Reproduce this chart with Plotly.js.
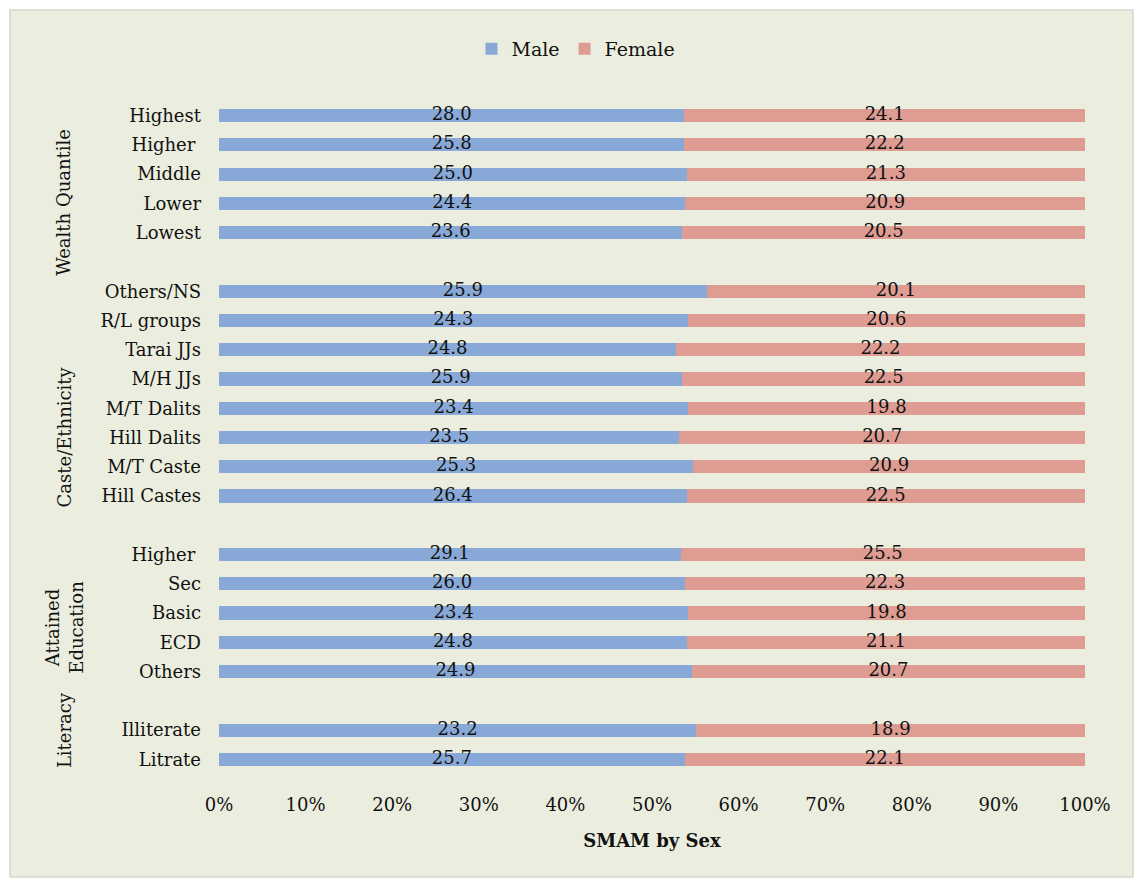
<!DOCTYPE html>
<html>
<head>
<meta charset="utf-8">
<script src="https://cdn.plot.ly/plotly-3.0.1.min.js"></script>
<style>html,body{margin:0;padding:0;background:#fff;}#chart{width:1135px;height:879px;}</style>
</head>
<body>
<div id="chart"></div>
<script>
// ---- data ----
const wealthLabels = ['Highest', 'Higher ', 'Middle', 'Lower', 'Lowest'];
const wealthMale   = [28.0, 25.8, 25.0, 24.4, 23.6];
const wealthFemale = [24.1, 22.2, 21.3, 20.9, 20.5];

const casteLabels = ['Others/NS', 'R/L groups', 'Tarai JJs', 'M/H JJs', 'M/T Dalits', 'Hill Dalits', 'M/T Caste', 'Hill Castes'];
const casteMale   = [25.9, 24.3, 24.8, 25.9, 23.4, 23.5, 25.3, 26.4];
const casteFemale = [20.1, 20.6, 22.2, 22.5, 19.8, 20.7, 20.9, 22.5];

const eduLabels = ['Higher ', 'Sec', 'Basic', 'ECD', 'Others'];
const eduMale   = [29.1, 26.0, 23.4, 24.8, 24.9];
const eduFemale = [25.5, 22.3, 19.8, 21.1, 20.7];

const litLabels = ['Illiterate', 'Litrate'];
const litMale   = [23.2, 25.7];
const litFemale = [18.9, 22.1];

const groupNames = ['Wealth Quantile', 'Caste/Ethnicity', 'Attained<br>Education', 'Literacy'];
const xTickLabels = ['0%', '10%', '20%', '30%', '40%', '50%', '60%', '70%', '80%', '90%', '100%'];

// ---- build rows (one blank slot between groups) ----
const groups = [
  [wealthLabels, wealthMale, wealthFemale],
  [casteLabels, casteMale, casteFemale],
  [eduLabels, eduMale, eduFemale],
  [litLabels, litMale, litFemale]
];
const ys = [], labels = [], male = [], female = [];
let pos = 0;
groups.forEach((g, gi) => {
  g[0].forEach((lab, i) => {
    ys.push(pos); labels.push(lab); male.push(g[1][i]); female.push(g[2][i]);
    pos++;
  });
  if (gi < groups.length - 1) pos++;
});
const nSlots = pos;

const FONT = 'DejaVu Serif, Liberation Serif, serif';
const TXT = '#111111';

const traceMale = {
  type: 'bar', orientation: 'h', name: 'Male',
  y: ys, x: male,
  marker: {color: '#88a9d7', line: {width: 0}},
  hoverinfo: 'skip'
};
const traceFemale = {
  type: 'bar', orientation: 'h', name: 'Female',
  y: ys, x: female,
  marker: {color: '#de9c93', line: {width: 0}},
  hoverinfo: 'skip'
};
// value labels centred in each (normalised) segment
const share = male.map((m, i) => 100 * m / (m + female[i]));
const labelMale = {
  type: 'scatter', mode: 'text', showlegend: false, hoverinfo: 'skip',
  y: ys, x: share.map(s => s / 2),
  text: male.map(v => v.toFixed(1)), textposition: 'middle center',
  textfont: {family: FONT, size: 18, color: TXT}, cliponaxis: false
};
const labelFemale = {
  type: 'scatter', mode: 'text', showlegend: false, hoverinfo: 'skip',
  y: ys, x: share.map(s => s + (100 - s) / 2),
  text: female.map(v => v.toFixed(1)), textposition: 'middle center',
  textfont: {family: FONT, size: 18, color: TXT}, cliponaxis: false
};

// group label positions (in row-slot units)
const groupPos = [2.98, 11.0, 17.5, 21.0];
const annotations = groupNames.map((t, i) => ({
  text: t, xref: 'paper', yref: 'y', x: 0, y: groupPos[i],
  xshift: -155, textangle: -90, showarrow: false,
  xanchor: 'center', yanchor: 'middle',
  font: {family: FONT, size: 18, color: TXT}
}));

const L = 219, R = 50, T = 101, B = 105;
const W = 1135, H = 879;
const pw = W - L - R, ph = H - T - B;
const px2x = p => (p - L) / pw;
const py2y = p => (H - B - p) / ph;

const layout = {
  width: W, height: H,
  margin: {l: L, r: R, t: T, b: B, pad: 0},
  paper_bgcolor: '#ffffff',
  plot_bgcolor: 'rgba(0,0,0,0)',
  barmode: 'stack', barnorm: 'percent', bargap: 0.55,
  font: {family: FONT, size: 18, color: TXT},
  showlegend: true,
  legend: {
    orientation: 'h', x: px2x(576), xanchor: 'center', y: py2y(49), yanchor: 'middle',
    font: {family: FONT, size: 19, color: TXT}, bgcolor: 'rgba(0,0,0,0)',
    itemwidth: 30, traceorder: 'normal'
  },
  xaxis: {
    range: [0, 100], tickvals: xTickLabels.map((_, i) => i * 10), ticktext: xTickLabels,
    showgrid: false, zeroline: false, showline: false, ticks: '',
    ticklabelstandoff: 18,
    tickfont: {family: FONT, size: 18, color: TXT},
    title: {text: '<b>SMAM by Sex</b>', font: {family: FONT, size: 18, color: TXT}, standoff: 20},
    fixedrange: true
  },
  yaxis: {
    range: [nSlots - 0.5, -0.5],
    tickvals: ys, ticktext: labels,
    showgrid: false, zeroline: false, showline: false, ticks: '',
    ticklabelstandoff: 17,
    tickfont: {family: FONT, size: 18, color: TXT},
    fixedrange: true
  },
  shapes: [{
    type: 'rect', xref: 'paper', yref: 'paper', layer: 'below',
    x0: px2x(10), x1: px2x(1133), y0: py2y(877), y1: py2y(10),
    fillcolor: '#ebeede', line: {color: '#d6d8d0', width: 1.5}
  }],
  annotations: annotations
};

Plotly.newPlot('chart', [traceMale, traceFemale, labelMale, labelFemale], layout, {displayModeBar: false, staticPlot: true});
</script>
</body>
</html>
